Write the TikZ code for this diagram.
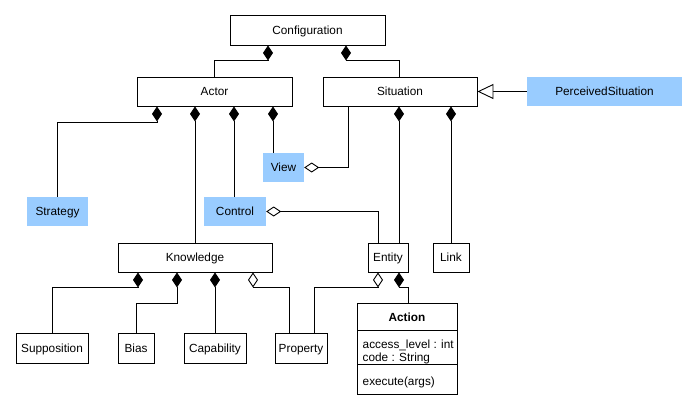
\documentclass[tikz,border=0pt]{standalone}
\usepackage{fontspec}
\setmainfont{Liberation Sans}
\usetikzlibrary{arrows.meta}
\definecolor{umlblue}{RGB}{153,204,255}
\tikzset{
  lbl/.style={font=\fontsize{11.8}{14}\selectfont, text height=8.5pt, text depth=0pt},
  box/.style={draw=black, line width=0.9pt, fill=white, inner sep=0pt, lbl},
  bluebox/.style={fill=umlblue, draw=none, inner sep=0pt, lbl},
  txt/.style={inner sep=0pt, lbl},
  conn/.style={line width=0.9pt, draw=black},
  comp/.style={conn, -{Diamond[length=15pt,width=10pt,fill=black]}},
  aggr/.style={conn, -{Diamond[open,length=15pt,width=10pt,fill=white]}},
  gen/.style={conn, -{Triangle[open,length=16pt,width=15pt,fill=white]}}
}
\begin{document}
\begin{tikzpicture}[x=1pt,y=-1pt]
\useasboundingbox (0,0) rectangle (697,410);
% class boxes
\node[box, minimum width=155pt, minimum height=30pt] (Configuration) at (307.5,30) {Configuration};
\node[box, minimum width=155pt, minimum height=29pt] (Actor) at (214.5,91.5) {Actor};
\node[box, minimum width=154pt, minimum height=29pt] (Situation) at (400,91.5) {Situation};
\node[bluebox, minimum width=155pt, minimum height=29pt] (Perceived) at (604.5,91.5) {PerceivedSituation};
\node[bluebox, minimum width=41pt, minimum height=29pt] (View) at (283.5,167.5) {View};
\node[bluebox, minimum width=61pt, minimum height=29pt] (Strategy) at (57.5,211.5) {Strategy};
\node[bluebox, minimum width=62pt, minimum height=29pt] (Control) at (235,211.5) {Control};
\node[box, minimum width=154pt, minimum height=29pt] (Knowledge) at (195,257.5) {Knowledge};
\node[box, minimum width=40pt, minimum height=29pt] (Entity) at (388,257.5) {Entity};
\node[box, minimum width=36pt, minimum height=29pt] (Link) at (451,257.5) {Link};
\node[box, minimum width=72pt, minimum height=30pt] (Supposition) at (52,348) {Supposition};
\node[box, minimum width=36pt, minimum height=30pt] (Bias) at (136,348) {Bias};
\node[box, minimum width=62pt, minimum height=30pt] (Capability) at (215,348) {Capability};
\node[box, minimum width=52pt, minimum height=30pt] (Property) at (301,348) {Property};
% Action class
\node[box, minimum width=100pt, minimum height=91pt] (Action) at (407,348.5) {};
\draw[conn] (357,330) -- (457,330);
\draw[conn] (357,364) -- (457,364);
\node[txt, font=\fontsize{11.8}{14}\selectfont\bfseries] (ActionName) at (407,317) {Action};
\node[txt, anchor=west] (ActionAttr1) at (362.5,344) {access\_level : int};
\node[txt, anchor=west] (ActionAttr2) at (362.5,357) {code : String};
\node[txt, anchor=west] (ActionOp) at (362.5,381) {execute(args)};
% connectors
\draw[comp] (Actor.north) |- (268,60) -- (Configuration.south -| 268,0);
\draw[comp] (Situation.north -| 399,0) |- (346,60) -- (Configuration.south -| 346,0);
\draw[gen] (Perceived.west) -- (Situation.east);
\draw[comp] (Strategy.north) |- (157,122) -- (Actor.south -| 157,0);
\draw[comp] (Knowledge.north) -- (Actor.south -| Knowledge.north);
\draw[comp] (Control.north -| 234,0) -- (Actor.south -| 234,0);
\draw[comp] (View.north -| 273,0) -- (Actor.south -| 273,0);
\draw[aggr] (Situation.south -| 348,0) |- (View.east);
\draw[aggr] (Entity.north -| 378,0) |- (Control.east);
\draw[comp] (Entity.north -| 399,0) -- (Situation.south -| 399,0);
\draw[comp] (Link.north) -- (Situation.south -| Link.north);
\draw[comp] (Supposition.north) |- (138,287) -- (Knowledge.south -| 138,0);
\draw[comp] (Bias.north) |- (177,303) -- (Knowledge.south -| 177,0);
\draw[comp] (Capability.north) -- (Knowledge.south -| Capability.north);
\draw[aggr] (Property.north -| 289,0) |- (253,287) -- (Knowledge.south -| 253,0);
\draw[aggr] (Property.north -| 314,0) |- (378,287) -- (Entity.south -| 378,0);
\draw[comp] (Action.north -| 408,0) |- (399,287) -- (Entity.south -| 399,0);
\end{tikzpicture}
\end{document}
